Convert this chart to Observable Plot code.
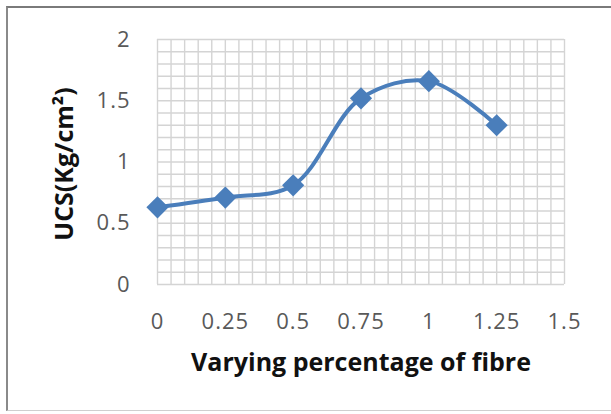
<!DOCTYPE html>
<html>
<head>
<meta charset="utf-8">
<script src="https://cdn.jsdelivr.net/npm/d3@7"></script>
<script src="https://cdn.jsdelivr.net/npm/@observablehq/plot@0.6"></script>
<style>
  html, body { margin: 0; padding: 0; background: #fff; }
  #wrap { position: relative; width: 611px; height: 414px; overflow: hidden; }
  #frame { position: absolute; left: 6px; top: 6px; width: 640px; height: 405px;
           border-left: 2px solid #8a8a8a; border-top: 2px solid #7a7a7a; border-bottom: 1px solid #cfcfcf; box-sizing: border-box; }
  #chart { position: absolute; left: 0; top: 0; }
  #chart svg text { font-family: "Open Sans", sans-serif; }
  .tick-lbl text { letter-spacing: 1px; }
</style>
</head>
<body>
<div id="wrap"><div id="frame"></div><div id="chart"></div></div>
<script>
const fibre = [0, 0.25, 0.5, 0.75, 1, 1.25];
const ucs = [0.63, 0.71, 0.81, 1.52, 1.66, 1.30];
const xTicks = [0, 0.25, 0.5, 0.75, 1, 1.25, 1.5];
const yTicks = [0, 0.5, 1, 1.5, 2];
const xGrid = d3.range(0, 31).map(i => i * 0.05);
const yGrid = d3.range(0, 21).map(i => i * 0.1);
const xTitle = "Varying percentage of fibre";
const yTitle = "UCS(Kg/cm²)";

const data = fibre.map((x, i) => ({x, y: ucs[i]}));
const blue = "#4a7ebb";

const chart = Plot.plot({
  width: 611,
  height: 414,
  marginLeft: 157,
  marginRight: 47,
  marginTop: 39,
  marginBottom: 130,
  style: {background: "transparent", fontFamily: "Open Sans, sans-serif"},
  x: {domain: [0, 1.5]},
  y: {domain: [0, 2]},
  marks: [
    Plot.gridX(xGrid, {stroke: "#d4d4d4", strokeOpacity: 1, strokeWidth: 1.4}),
    Plot.gridY(yGrid, {stroke: "#d4d4d4", strokeOpacity: 1, strokeWidth: 1.4}),
    Plot.axisX(xTicks, {tickSize: 0, tickPadding: 29, fontSize: 22, fill: "#595959", label: null,
      tickFormat: d => String(d), className: "tick-lbl"}),
    Plot.axisY(yTicks, {tickSize: 0, tickPadding: 27, fontSize: 22, fill: "#595959", label: null,
      tickFormat: d => String(d), className: "tick-lbl"}),
    Plot.line(data, {x: "x", y: "y", stroke: blue, strokeWidth: 4, curve: "catmull-rom"}),
    Plot.dot(data, {x: "x", y: "y", symbol: "diamond2", r: 10, fill: blue, stroke: "none"}),
    Plot.text([xTitle], {frameAnchor: "bottom", dy: 78, fontSize: 25, fontWeight: "bold", fill: "#111", lineAnchor: "middle", textAnchor: "middle"}),
    Plot.text([yTitle], {frameAnchor: "left", dx: -93, dy: 2, rotate: -90, fontSize: 25, fontWeight: "bold", fill: "#111", lineAnchor: "middle", textAnchor: "middle"})
  ]
});
document.getElementById("chart").appendChild(chart);
</script>
</body>
</html>
